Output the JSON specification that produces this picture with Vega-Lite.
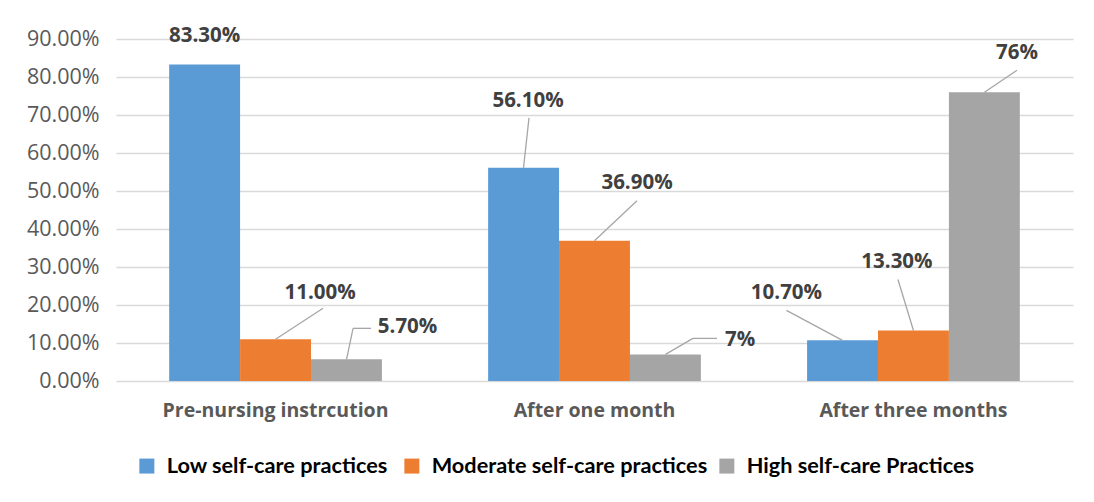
{
  "$schema": "https://vega.github.io/schema/vega-lite/v6.json",
  "width": 957,
  "height": 342,
  "autosize": {"type": "none"},
  "padding": {"left": 116, "top": 39, "right": 21, "bottom": 121},
  "background": "white",
  "config": {
    "view": {"stroke": null},
    "font": "Open Sans",
    "text": {"font": "Open Sans", "fontSize": 20.5, "fontWeight": "bold", "color": "#404040", "baseline": "middle", "align": "center"},
    "rule": {"color": "#a6a6a6", "strokeWidth": 1.3}
  },
  "data": {
    "values": [
      {"group": "Pre-nursing instrcution", "series": "Low self-care  practices", "value": 0.833, "label": "83.30%"},
      {"group": "Pre-nursing instrcution", "series": "Moderate self-care practices", "value": 0.11, "label": "11.00%"},
      {"group": "Pre-nursing instrcution", "series": "High self-care Practices", "value": 0.057, "label": "5.70%"},
      {"group": "After one month", "series": "Low self-care  practices", "value": 0.561, "label": "56.10%"},
      {"group": "After one month", "series": "Moderate self-care practices", "value": 0.369, "label": "36.90%"},
      {"group": "After one month", "series": "High self-care Practices", "value": 0.07, "label": "7%"},
      {"group": "After three months", "series": "Low self-care  practices", "value": 0.107, "label": "10.70%"},
      {"group": "After three months", "series": "Moderate self-care practices", "value": 0.133, "label": "13.30%"},
      {"group": "After three months", "series": "High self-care Practices", "value": 0.76, "label": "76%"}
    ]
  },
  "encoding": {
    "x": {
      "field": "group", "type": "nominal",
      "sort": ["Pre-nursing instrcution", "After one month", "After three months"],
      "scale": {"paddingInner": 0.333, "paddingOuter": 0.1667},
      "axis": {"title": null, "labelAngle": 0, "domain": false, "ticks": false, "labelPadding": 20, "labelFont": "Open Sans", "labelFontSize": 19.5, "labelFontWeight": "bold", "labelColor": "#595959", "labelLimit": 400}
    },
    "y": {
      "field": "value", "type": "quantitative",
      "scale": {"domain": [0, 0.9], "nice": false},
      "axis": {"title": null, "format": ".2%", "values": [0, 0.1, 0.2, 0.3, 0.4, 0.5, 0.6, 0.7, 0.8, 0.9], "domain": false, "ticks": false, "labelPadding": 17, "labelFont": "Open Sans", "labelFontSize": 21.5, "labelColor": "#595959", "gridColor": "#d9d9d9", "gridWidth": 1.5}
    }
  },
  "layer": [
    {
      "mark": {"type": "bar"},
      "encoding": {
        "xOffset": {"field": "series", "type": "nominal", "sort": ["Low self-care  practices", "Moderate self-care practices", "High self-care Practices"], "scale": {"paddingInner": 0, "paddingOuter": 0}},
        "color": {
          "field": "series", "type": "nominal",
          "sort": ["Low self-care  practices", "Moderate self-care practices", "High self-care Practices"],
          "scale": {"domain": ["Low self-care  practices", "Moderate self-care practices", "High self-care Practices"], "range": ["#5b9bd5", "#ed7d31", "#a5a5a5"]},
          "legend": {"title": null, "orient": "none", "direction": "horizontal", "legendX": 20, "legendY": 416, "symbolType": "square", "symbolSize": 225, "symbolStrokeWidth": 0, "labelFont": "Lato", "labelFontSize": 21.7, "labelFontWeight": "bold", "labelColor": "#000000", "labelOffset": 9, "columnPadding": 8, "labelLimit": 500}
        }
      }
    },
    {
      "transform": [{"filter": "datum.label == '83.30%'"}],
      "mark": {"type": "text", "xOffset": -71, "dy": -28},
      "encoding": {"text": {"field": "label"}}
    },
    {
      "transform": [{"filter": "datum.label == '11.00%'"}],
      "layer": [
        {"mark": {"type": "rule", "xOffset": 0, "x2Offset": 47.5, "y2Offset": -31}, "encoding": {"x2": {"field": "group"}, "y2": {"field": "value"}}},
        {"mark": {"type": "text", "dx": 44.5, "dy": -46}, "encoding": {"text": {"field": "label"}}}
      ]
    },
    {
      "transform": [{"filter": "datum.label == '5.70%'"}],
      "layer": [
        {"mark": {"type": "rule", "xOffset": 71, "x2Offset": 77.5, "y2Offset": -31}, "encoding": {"x2": {"field": "group"}, "y2": {"field": "value"}}},
        {"mark": {"type": "rule", "xOffset": 77.5, "yOffset": -31, "x2Offset": 95.5, "y2Offset": -31}, "encoding": {"x2": {"field": "group"}, "y2": {"field": "value"}}},
        {"mark": {"type": "text", "xOffset": 71, "dx": 61, "dy": -32}, "encoding": {"text": {"field": "label"}}}
      ]
    },
    {
      "transform": [{"filter": "datum.label == '56.10%'"}],
      "layer": [
        {"mark": {"type": "rule", "xOffset": -71, "x2Offset": -65.5, "y2Offset": -50}, "encoding": {"x2": {"field": "group"}, "y2": {"field": "value"}}},
        {"mark": {"type": "text", "xOffset": -71, "dx": 4.5, "dy": -67}, "encoding": {"text": {"field": "label"}}}
      ]
    },
    {
      "transform": [{"filter": "datum.label == '36.90%'"}],
      "layer": [
        {"mark": {"type": "rule", "xOffset": 0, "x2Offset": 42.5, "y2Offset": -40}, "encoding": {"x2": {"field": "group"}, "y2": {"field": "value"}}},
        {"mark": {"type": "text", "dx": 42.5, "dy": -58}, "encoding": {"text": {"field": "label"}}}
      ]
    },
    {
      "transform": [{"filter": "datum.label == '7%'"}],
      "layer": [
        {"mark": {"type": "rule", "xOffset": 71, "x2Offset": 98.5, "y2Offset": -16}, "encoding": {"x2": {"field": "group"}, "y2": {"field": "value"}}},
        {"mark": {"type": "rule", "xOffset": 98.5, "yOffset": -16, "x2Offset": 122.5, "y2Offset": -16}, "encoding": {"x2": {"field": "group"}, "y2": {"field": "value"}}},
        {"mark": {"type": "text", "xOffset": 71, "dx": 74.5, "dy": -14}, "encoding": {"text": {"field": "label"}}}
      ]
    },
    {
      "transform": [{"filter": "datum.label == '10.70%'"}],
      "layer": [
        {"mark": {"type": "rule", "xOffset": -71, "x2Offset": -127, "y2Offset": -30}, "encoding": {"x2": {"field": "group"}, "y2": {"field": "value"}}},
        {"mark": {"type": "text", "xOffset": -71, "dx": -56, "dy": -47}, "encoding": {"text": {"field": "label"}}}
      ]
    },
    {
      "transform": [{"filter": "datum.label == '13.30%'"}],
      "layer": [
        {"mark": {"type": "rule", "xOffset": 0, "x2Offset": -15.5, "y2Offset": -51}, "encoding": {"x2": {"field": "group"}, "y2": {"field": "value"}}},
        {"mark": {"type": "text", "dx": -16.5, "dy": -68}, "encoding": {"text": {"field": "label"}}}
      ]
    },
    {
      "transform": [{"filter": "datum.label == '76%'"}],
      "layer": [
        {"mark": {"type": "rule", "xOffset": 71, "x2Offset": 103.5, "y2Offset": -22}, "encoding": {"x2": {"field": "group"}, "y2": {"field": "value"}}},
        {"mark": {"type": "text", "xOffset": 71, "dx": 32.5, "dy": -39}, "encoding": {"text": {"field": "label"}}}
      ]
    }
  ]
}
